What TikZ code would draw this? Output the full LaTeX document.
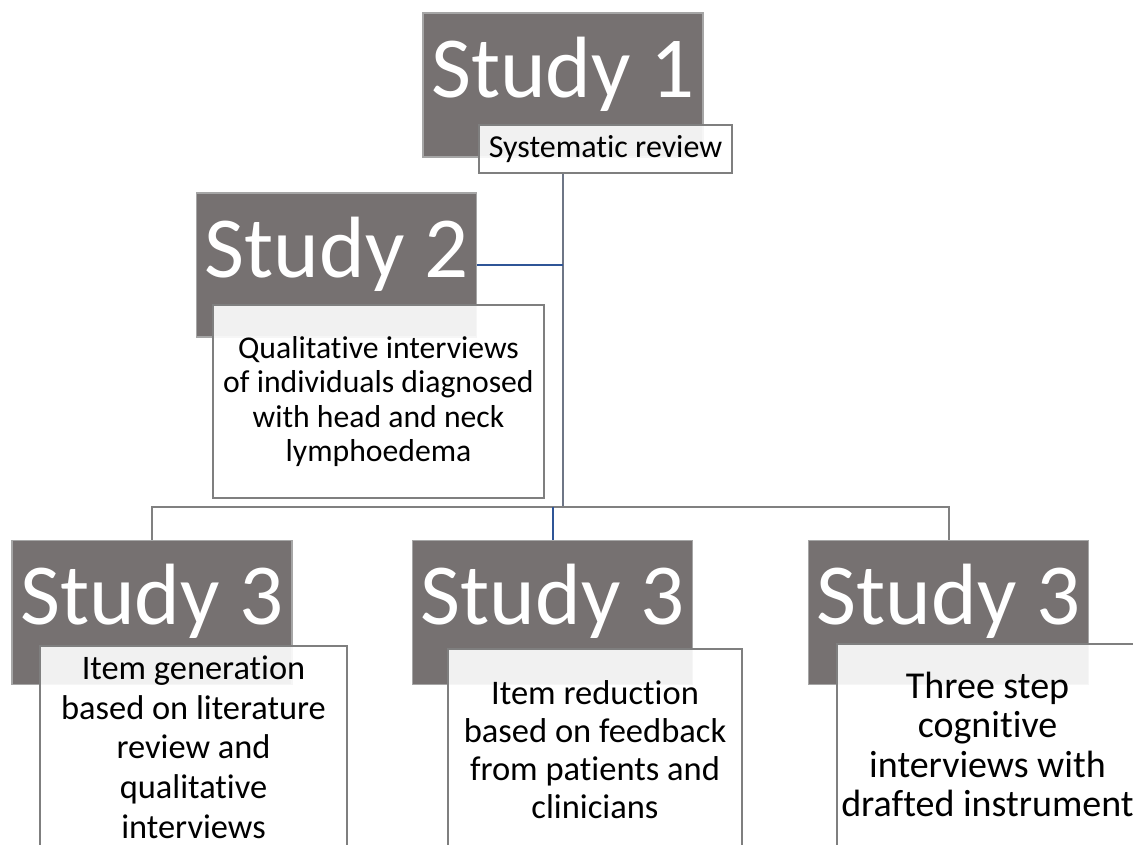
\documentclass[tikz,border=0pt]{standalone}
\usepackage{fontspec}
\setmainfont{Carlito}[Ligatures=NoCommon]
\usetikzlibrary{calc}
\definecolor{darkfill}{HTML}{767171}
\definecolor{darkrim}{HTML}{A6A6A6}
\definecolor{boxrim}{HTML}{7F7F7F}
\definecolor{linkgray}{HTML}{808080}
\definecolor{trunkcol}{HTML}{6E7686}
\definecolor{linkblue}{HTML}{2F5597}
\tikzset{
  studybox/.style={rectangle, fill=darkfill, draw=darkrim, line width=1.6pt,
    inner sep=0pt, minimum width=280pt, align=center,
    text=white, text height=84pt, text depth=60pt,
    font=\fontsize{87}{87}\selectfont},
  notebox/.style={rectangle, fill=white, fill opacity=0.9, text opacity=1,
    draw=boxrim, line width=2pt, inner sep=0pt, align=center, text=black},
  link/.style={draw=linkgray, line width=2pt},
  bluelink/.style={draw=linkblue, line width=2pt},
  trunklink/.style={draw=trunkcol, line width=2pt},
}
\begin{document}
\begin{tikzpicture}[x=1pt, y=-1pt]
  \useasboundingbox (0,0) rectangle (1133,844);
  \fill[white] (0,0) rectangle (1133,844);

  % junction of the trunk with the horizontal bus
  \coordinate (trunk) at (563,507);

  % connectors, drawn beneath the boxes
  \path (605.5,149) node[notebox, draw=none, fill=none, minimum width=253pt, minimum height=48pt] (sysrevpos) {};
  \draw[trunklink] (sysrevpos.south -| trunk) -- (trunk);
  \draw[link] (trunk) -| (152,540) coordinate (dropa);
  \draw[link] (trunk) -| (948.5,540) coordinate (dropc);
  \draw[bluelink] (552.5,540) coordinate (dropb) -- (dropb |- trunk);
  \draw[bluelink] (477,265) coordinate (s2east) -- (s2east -| trunk);

  % Study 1
  \node[studybox] (s1) at (563,85) {Study 1};
  \node[notebox, minimum width=253pt, minimum height=48pt,
        font=\fontsize{32}{34}\selectfont] (sysrev) at (605.5,149) {Systematic review};

  % Study 2
  \node[studybox] (s2) at (336.5,265) {Study 2};
  \node[notebox, minimum width=331pt, minimum height=193pt,
        font=\fontsize{31.7}{34.2}\selectfont] (s2note) at (378.5,401.5)
        {Qualitative interviews\\of individuals diagnosed\\with head and neck\\lymphoedema};

  % Study 3 row
  \node[studybox] (s3a) at (152,612.5) {Study 3};
  \node[studybox] (s3b) at (552.5,612.5) {Study 3};
  \node[studybox] (s3c) at (948.5,612.5) {Study 3};

  \node[notebox, minimum width=307pt, minimum height=202pt,
        font=\fontsize{34.4}{39.7}\selectfont] (s3anote) at (193.5,747)
        {Item generation\\based on literature\\review and\\qualitative\\interviews};
  \node[notebox, minimum width=294pt, minimum height=202pt,
        font=\fontsize{34.5}{38}\selectfont] (s3bnote) at (595,750)
        {Item reduction\\based on feedback\\from patients and\\clinicians};
  \node[notebox, minimum width=301pt, minimum height=202pt,
        font=\fontsize{38}{39.3}\selectfont] (s3cnote) at (987.5,744.5)
        {Three step\\cognitive\\interviews with\\drafted instrument};
\end{tikzpicture}
\end{document}
